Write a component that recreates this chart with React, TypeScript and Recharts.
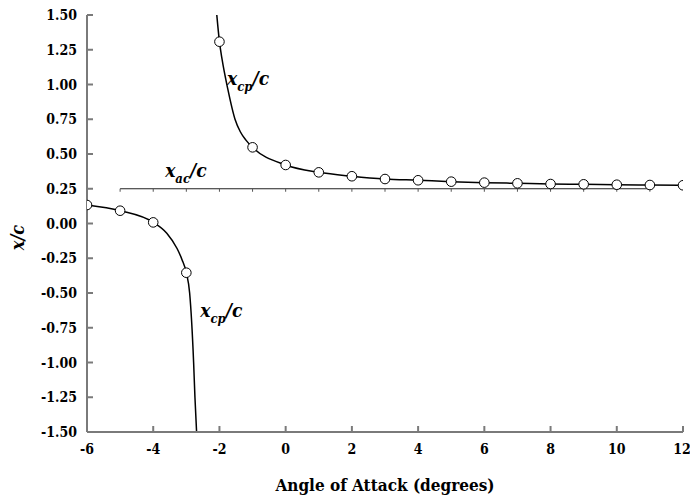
import React from "react";
import {
  ComposedChart,
  Line,
  Scatter,
  XAxis,
  YAxis,
  ReferenceDot,
} from "recharts";

// measured x_cp/c at each whole degree
const angles = [-6, -5, -4, -3, -2, -1, 0, 1, 2, 3, 4, 5, 6, 7, 8, 9, 10, 11, 12];
const xcpValues = [
  0.133, 0.092, 0.008, -0.354, 1.308, 0.548, 0.421, 0.368, 0.34, 0.32, 0.311,
  0.301, 0.294, 0.289, 0.284, 0.282, 0.279, 0.277, 0.275,
];

// curve traced through the picture (branch below the singularity)
const lowerAngles = [-6, -5, -4, -3.59, -3.28, -3.13, -3, -2.9, -2.78, -2.74, -2.69];
const lowerValues = [0.133, 0.092, 0.008, -0.07, -0.18, -0.26, -0.354, -0.5, -1.0, -1.25, -1.5];

// branch above the singularity
const upperAngles = [-2.08, -2, -1.92, -1.75, -1.53, -1.37, -1.2, -1, 0, 1, 2, 3, 4, 5, 6, 7, 8, 9, 10, 11, 12];
const upperValues = [
  1.5, 1.308, 1.18, 0.97, 0.75, 0.66, 0.6, 0.548, 0.421, 0.368, 0.34, 0.32, 0.311,
  0.301, 0.294, 0.289, 0.284, 0.282, 0.279, 0.277, 0.275,
];

// aerodynamic centre line
const xacAngles = [-5, -4, -3, -2, -1, 0, 1, 2, 3, 4, 5, 6, 7, 8, 9, 10, 11];
const xacValue = 0.25;

const xTicks = [-6, -4, -2, 0, 2, 4, 6, 8, 10, 12];
const yTicks = [-1.5, -1.25, -1, -0.75, -0.5, -0.25, 0, 0.25, 0.5, 0.75, 1, 1.25, 1.5];

const markers = angles.map((a, i) => ({ a, v: xcpValues[i] }));
const lowerCurve = lowerAngles.map((a, i) => ({ a, v: lowerValues[i] }));
const upperCurve = upperAngles.map((a, i) => ({ a, v: upperValues[i] }));
const xacLine = xacAngles.map((a) => ({ a, v: xacValue }));

const FONT = "DejaVu Serif Condensed, DejaVu Serif";
const AXIS = "#7a7a7a";

const XTick = ({ x, y, payload }: any) => (
  <text
    x={x}
    y={y}
    dy="0.72em"
    textAnchor="middle"
    fill="#000"
    fontFamily={FONT}
    fontWeight="bold"
    fontSize={14}
  >
    {payload.value}
  </text>
);

const YTick = ({ x, y, payload }: any) => (
  <text
    x={x}
    y={y}
    dy="0.36em"
    textAnchor="end"
    fill="#000"
    fontFamily={FONT}
    fontWeight="bold"
    fontSize={14}
  >
    {Number(payload.value).toFixed(2)}
  </text>
);

const Subscripted = ({ cx, cy, sub }: any) => (
  <text
    x={cx}
    y={cy}
    fill="#000"
    fontFamily={FONT}
    fontWeight="bold"
    fontStyle="italic"
    fontSize={19}
  >
    <tspan>x</tspan>
    <tspan dy={6} fontSize={13}>
      {sub}
    </tspan>
    <tspan dy={-6}>/c</tspan>
  </text>
);

const Marker = ({ cx, cy }: any) => (
  <circle cx={cx} cy={cy} r={4.8} fill="#fff" stroke="#000" strokeWidth={1} />
);

const YTitle = ({ viewBox }: any) => {
  const x = 24;
  const y = viewBox.y + viewBox.height / 2 + 14;
  return (
    <text
      x={x}
      y={y}
      transform={`rotate(-90, ${x}, ${y})`}
      textAnchor="middle"
      fill="#000"
      fontFamily={FONT}
      fontWeight="bold"
      fontStyle="italic"
      fontSize={18}
    >
      x/c
    </text>
  );
};

export default function App() {
  return (
    <div style={{ position: "absolute", left: 0, top: 0, background: "#fff" }}>
      <ComposedChart
        width={690}
        height={498}
        margin={{ top: 15, right: 7, bottom: 0, left: 0 }}
      >
        <XAxis
          xAxisId="b"
          dataKey="a"
          type="number"
          domain={[-6, 12]}
          ticks={xTicks}
          allowDataOverflow
          height={66}
          stroke={AXIS}
          strokeWidth={2}
          tickSize={-6}
          tickMargin={18}
          tick={XTick}
          label={{
            value: "Angle of Attack (degrees)",
            position: "insideBottom",
            offset: 7,
            fill: "#000",
            fontSize: 17,
            fontFamily: FONT,
            fontWeight: 700,
          }}
        />
        <XAxis
          xAxisId="t"
          orientation="top"
          dataKey="a"
          type="number"
          domain={[-6, 12]}
          ticks={xTicks}
          allowDataOverflow
          height={0}
          stroke={AXIS}
          strokeWidth={2}
          tickSize={-6}
          tickFormatter={() => ""}
        />
        <YAxis
          yAxisId="l"
          type="number"
          domain={[-1.5, 1.5]}
          ticks={yTicks}
          allowDataOverflow
          width={87}
          stroke={AXIS}
          strokeWidth={2}
          tickSize={-6}
          tickMargin={16}
          tick={YTick}
          label={{ content: YTitle }}
        />
        <YAxis
          yAxisId="r"
          orientation="right"
          type="number"
          domain={[-1.5, 1.5]}
          ticks={yTicks}
          allowDataOverflow
          width={0}
          stroke={AXIS}
          strokeWidth={2}
          tickSize={-6}
          tickFormatter={() => ""}
        />

        <Line
          xAxisId="b"
          yAxisId="l"
          data={xacLine}
          dataKey="v"
          type="linear"
          stroke="#222"
          strokeWidth={1.2}
          dot={(p: any) => (
            <line
              key={`t${p.index}`}
              x1={p.cx}
              x2={p.cx}
              y1={p.cy}
              y2={p.cy + 3}
              stroke="#555"
              strokeWidth={1}
            />
          )}
          activeDot={false}
          isAnimationActive={false}
        />
        <Line
          xAxisId="b"
          yAxisId="l"
          data={lowerCurve}
          dataKey="v"
          type="monotone"
          stroke="#000"
          strokeWidth={1.5}
          dot={false}
          activeDot={false}
          isAnimationActive={false}
        />
        <Line
          xAxisId="b"
          yAxisId="l"
          data={upperCurve}
          dataKey="v"
          type="monotone"
          stroke="#000"
          strokeWidth={1.5}
          dot={false}
          activeDot={false}
          isAnimationActive={false}
        />
        <Scatter
          xAxisId="b"
          yAxisId="l"
          data={markers}
          dataKey="v"
          shape={Marker}
          isAnimationActive={false}
        />

        <ReferenceDot
          xAxisId="b"
          yAxisId="l"
          x={-1.77}
          y={1.0}
          r={0}
          shape={(p: any) => <Subscripted {...p} sub="cp" />}
        />
        <ReferenceDot
          xAxisId="b"
          yAxisId="l"
          x={-2.58}
          y={-0.67}
          r={0}
          shape={(p: any) => <Subscripted {...p} sub="cp" />}
        />
        <ReferenceDot
          xAxisId="b"
          yAxisId="l"
          x={-3.64}
          y={0.335}
          r={0}
          shape={(p: any) => <Subscripted {...p} sub="ac" />}
        />
      </ComposedChart>
    </div>
  );
}
